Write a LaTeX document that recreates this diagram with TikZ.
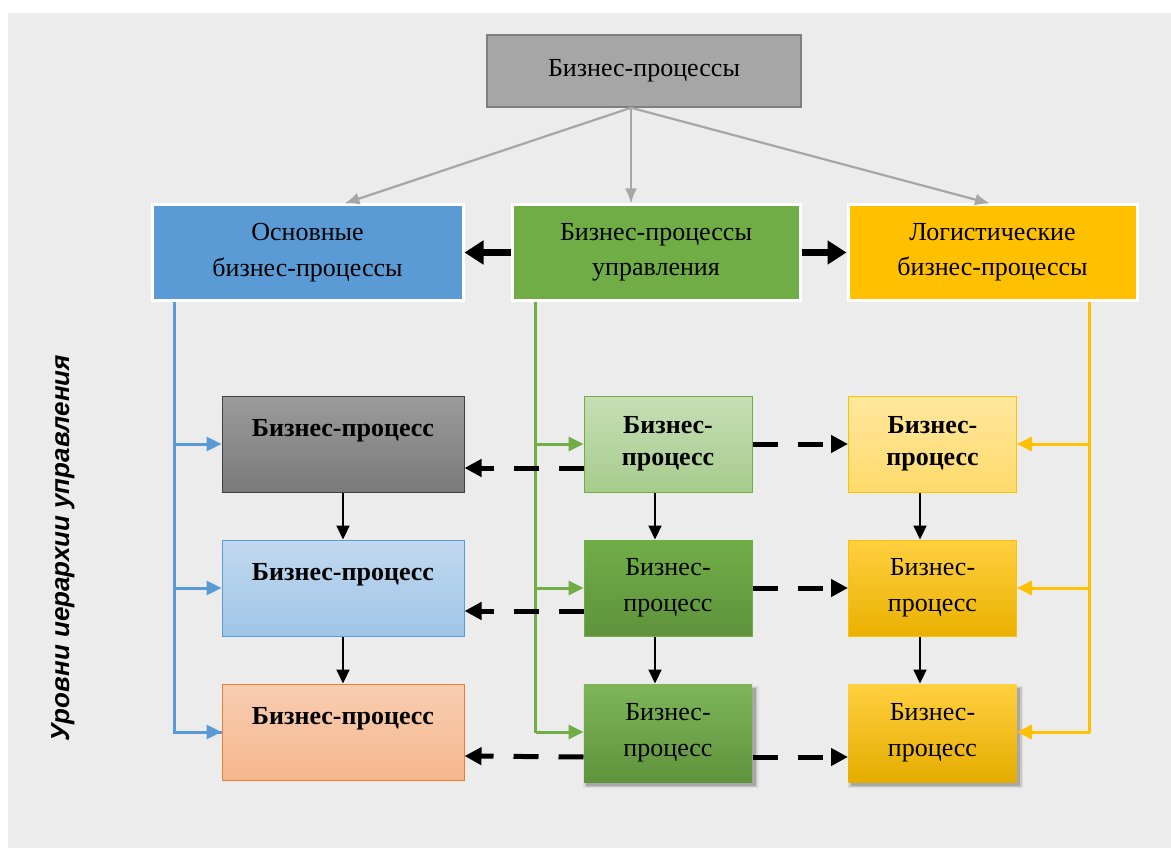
\documentclass[tikz,border=0pt]{standalone}
\usepackage{fontspec}
\setmainfont{Liberation Serif}
\newfontfamily\sidefont{Liberation Sans}
\usetikzlibrary{arrows.meta,calc,shadows}

\definecolor{bg}{HTML}{ECECEC}
\definecolor{topfill}{HTML}{A6A6A6}
\definecolor{topedge}{HTML}{7F7F7F}
\definecolor{cblue}{HTML}{5B9BD5}
\definecolor{cgreen}{HTML}{70AD47}
\definecolor{cyellow}{HTML}{FFC000}
\definecolor{corange}{HTML}{ED7D31}
\definecolor{grayhi}{HTML}{9B9B9B}
\definecolor{graylo}{HTML}{7A7A7A}

\tikzset{
  txt/.style={font=\fontsize{26}{35.5}\selectfont, align=center},
  btxt/.style={font=\bfseries\fontsize{26}{32.5}\selectfont, align=center},
  headbox/.style={txt, rectangle, draw=white, line width=3pt,
    minimum height=95pt, inner sep=0pt},
  procbox/.style={rectangle, line width=1pt, minimum height=96pt, inner sep=0pt},
  wide/.style={minimum width=242pt},
  narrow/.style={minimum width=168pt},
  boxshadow/.style={
    general shadow={fill=black, opacity=0.06, shadow xshift=3pt, shadow yshift=-4pt, shadow scale=1.045},
    general shadow={fill=black, opacity=0.10, shadow xshift=3pt, shadow yshift=-4pt, shadow scale=1.025},
    general shadow={fill=black, opacity=0.16, shadow xshift=3pt, shadow yshift=-4pt, shadow scale=1.008}},
  grayarrow/.style={draw=topfill, line width=2.2pt,
    -{Latex[length=15pt,width=12pt]}},
  feed/.style={line width=3pt, -{Triangle[length=15pt,width=14pt]}},
  feedline/.style={line width=3pt},
  down/.style={draw=black, line width=2.2pt, -{Triangle[length=14pt,width=13pt]}},
  bold arrow/.style={draw=black, line width=7pt, -{Triangle[length=19pt,width=23pt]}},
  dashlink/.style={draw=black, line width=5pt, dash pattern=on 25pt off 20pt,
    -{Triangle[length=17pt,width=17pt]}},
}

\begin{document}
\begin{tikzpicture}[x=1pt, y=-1pt]
  % page and panel
  \useasboundingbox (0,0) rectangle (1171,848);
  \fill[white] (0,0) rectangle (1171,848);
  \fill[bg] (8,13) rectangle (1171,848);

  % top level
  \node[txt, rectangle, fill=topfill, draw=topedge, line width=1.5pt,
        minimum width=314pt, minimum height=72pt] (top) at (644,71) {Бизнес-процессы};

  % process groups
  \node[headbox, fill=cblue, minimum width=311pt] (main) at (307.5,252.5)
    {Основные\\бизнес-процессы};
  \node[headbox, fill=cgreen, minimum width=288pt] (mgmt) at (656,252.5)
    {Бизнес-процессы\\управления};
  \node[headbox, fill=cyellow, minimum width=289pt] (logi) at (992.5,252.5)
    {Логистические\\бизнес-процессы};

  % left column
  \node[procbox, wide, btxt, top color=grayhi, bottom color=graylo, draw={black!75}]
    (l1) at (343,444) {Бизнес-процесс\\\mbox{}};
  \node[procbox, wide, btxt, top color={cblue!38}, bottom color={cblue!58}, draw=cblue]
    (l2) at (343,588) {Бизнес-процесс\\\mbox{}};
  \node[procbox, wide, btxt, top color={corange!38}, bottom color={corange!55}, draw=corange]
    (l3) at (343,732) {Бизнес-процесс\\\mbox{}};

  % middle column
  \node[procbox, narrow, btxt, top color={cgreen!40}, bottom color={cgreen!62}, draw=cgreen]
    (m1) at (668,444) {Бизнес-\\процесс};
  \node[procbox, narrow, txt, top color={cgreen}, bottom color={cgreen!85!black}, draw=cgreen]
    (m2) at (668,588) {Бизнес-\\процесс};
  \node[procbox, narrow, txt, boxshadow, top color={cgreen!90!white}, bottom color={cgreen!85!black}, draw=none,
        minimum height=98pt]
    (m3) at (668,733) {Бизнес-\\процесс};

  % right column
  \node[procbox, narrow, btxt, top color={cyellow!38}, bottom color={cyellow!58}, draw=cyellow]
    (r1) at (932.5,444) {Бизнес-\\процесс};
  \node[procbox, narrow, txt, top color={cyellow!75}, bottom color={cyellow!92!black}, draw=cyellow]
    (r2) at (932.5,588) {Бизнес-\\процесс};
  \node[procbox, narrow, txt, boxshadow, top color={cyellow!75}, bottom color={cyellow!90!black}, draw=none,
        minimum height=98pt]
    (r3) at (932.5,733) {Бизнес-\\процесс};

  % side caption
  \node[rotate=90, font=\sidefont\bfseries\itshape\fontsize{26}{30}\selectfont]
    (side) at (63,548) {Уровни иерархии управления};

  % top level to groups
  \draw[grayarrow] ($(top.south)+(-13,0)$) -- ($(main.north)+(37,0)$);
  \draw[grayarrow] ($(top.south)+(-13,0)$) -- ($(mgmt.north)+(-25,0)$);
  \draw[grayarrow] ($(top.south)+(-13,0)$) -- ($(logi.north)+(-2.5,0)$);

  % management to the other groups
  \draw[bold arrow] (mgmt.west) -- (main.east);
  \draw[bold arrow] (mgmt.east) -- (logi.west);

  % blue feed
  \coordinate (bt) at ($(main.south west)+(24,0)$);
  \draw[feedline, cblue] (bt) -- (bt |- l3.west) -- (l3.west);
  \draw[feed, cblue] (bt |- l1.west) -- (l1.west);
  \draw[feed, cblue] (bt |- l2.west) -- (l2.west);
  \draw[feed, cblue] (bt |- l3.west) -- (l3.west);

  % green feed
  \coordinate (gt) at ($(mgmt.south west)+(25,0)$);
  \draw[feedline, cgreen] (gt) -- (gt |- m3.west);
  \draw[feed, cgreen] (gt |- m1.west) -- (m1.west);
  \draw[feed, cgreen] (gt |- m2.west) -- (m2.west);
  \draw[feed, cgreen] ($(gt |- m3.west)+(0,-1)$) -- ($(m3.west)+(0,-1)$);

  % yellow feed
  \coordinate (yt) at ($(logi.south east)+(-49,0)$);
  \draw[feedline, cyellow] (yt) -- (yt |- r3.east);
  \draw[feed, cyellow] (yt |- r1.east) -- (r1.east);
  \draw[feed, cyellow] (yt |- r2.east) -- (r2.east);
  \draw[feed, cyellow] ($(yt |- r3.east)+(0,-1)$) -- ($(r3.east)+(0,-1)$);

  % sequence within each column
  \draw[down] (l1.south) -- (l2.north);
  \draw[down] (l2.south) -- (l3.north);
  \draw[down] ($(m1.south)+(-13,0)$) -- ($(m2.north)+(-13,0)$);
  \draw[down] ($(m2.south)+(-13,0)$) -- ($(m3.north)+(-13,0)$);
  \draw[down] ($(r1.south)+(-12.5,0)$) -- ($(r2.north)+(-12.5,0)$);
  \draw[down] ($(r2.south)+(-12.5,0)$) -- ($(r3.north)+(-12.5,0)$);

  % links between columns
  \draw[dashlink] ($(m1.west)+(0,24)$) -- ($(l1.east)+(0,24)$);
  \draw[dashlink] ($(m2.west)+(0,23)$) -- ($(l2.east)+(0,23)$);
  \draw[dashlink] ($(m3.west)+(0,24)$) -- ($(l3.east)+(0,24)$);
  \draw[dashlink] (m1.east) -- (r1.west);
  \draw[dashlink] (m2.east) -- (r2.west);
  \draw[dashlink] ($(m3.east)+(0,24)$) -- ($(r3.west)+(0,24)$);
\end{tikzpicture}
\end{document}
